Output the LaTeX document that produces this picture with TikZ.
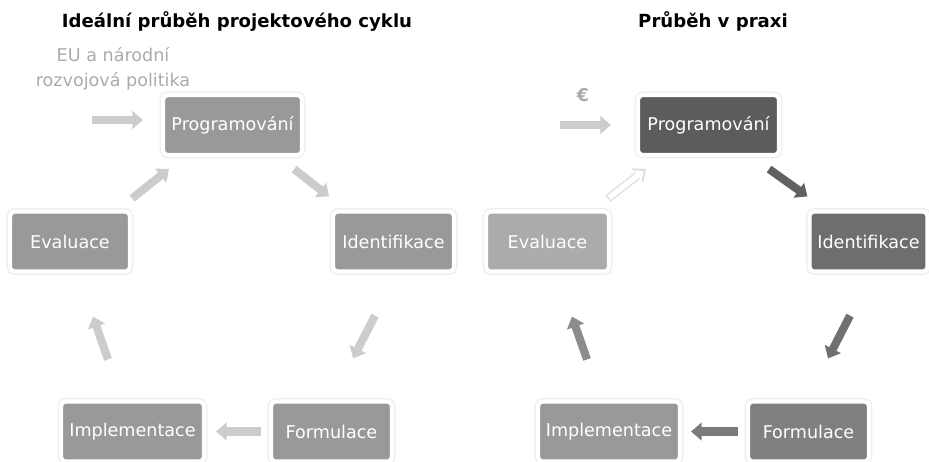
\documentclass[tikz,border=0pt]{standalone}
\usepackage{fontspec}
\setmainfont{DejaVu Sans}
\usetikzlibrary{arrows.meta}

\definecolor{boxgray}{HTML}{999999}
\definecolor{arrlight}{HTML}{CCCCCC}
\definecolor{notegray}{HTML}{ABABAB}
\tikzset{
    stage/.style={rectangle, rounded corners=2.5pt, fill=#1, text=white,
        minimum height=1.2cm, inner sep=0pt, font=\fontsize{10}{12}\selectfont,
        preaction={draw=black!7, line width=3.8pt},
        draw=white, line width=2.4pt},
    blk/.style={draw=#1, line width=4.6pt,
        -{Triangle[width=10pt, length=6pt]}},
    heading/.style={font=\fontsize{10.3}{12}\selectfont\bfseries, text=black}
}

\begin{document}
\begin{tikzpicture}[x=0.02cm, y=-0.02cm]
    \fill[white] (0,0) rectangle (929,461);
    \useasboundingbox (0,0) rectangle (929,461);

    \node[heading] (ltitle) at (237,21) {Ideální průběh projektového cyklu};
    \node[heading] (rtitle) at (713,21) {Průběh v praxi};

    % ideal cycle
    \node[text=notegray, align=center, font=\fontsize{10}{14}\selectfont]
        (policy) at (113,69) {EU a národní\\rozvojová politika};
    \node[stage=boxgray, minimum width=2.78cm] (lprog) at (232.5,125) {Programování};
    \node[stage=boxgray, minimum width=2.4cm] (leval) at (70,241.5) {Evaluace};
    \node[stage=boxgray, minimum width=2.42cm] (lident) at (393.5,241.5) {Identifikace};
    \node[stage=boxgray, minimum width=2.42cm] (lform) at (331.5,431.5) {Formulace};
    \node[stage=boxgray, minimum width=2.86cm] (limpl) at (132.5,431.5) {Implementace};
    \coordinate (lin) at (92,120);

    \draw[blk=arrlight] (lin) -- ([shift={(-18,-5)}]lprog.west);
    \draw[blk=arrlight] ([shift={(-10,12)}]lprog.south east) -- ([shift={(-2,-13)}]lident.north west);
    \draw[blk=arrlight] ([shift={(-18.5,42)}]lident.south) -- ([shift={(21.5,-41)}]lform.north);
    \draw[blk=arrlight] ([shift={(-8,0)}]lform.west) -- ([shift={(10,0)}]limpl.east);
    \draw[blk=arrlight] ([shift={(-24.5,-40)}]limpl.north) -- ([shift={(23,43)}]leval.south);
    \draw[blk=arrlight] ([shift={(0,-11)}]leval.north east) -- ([shift={(8,12)}]lprog.south west);

    % practice
    \node[text=notegray, font=\fontsize{10}{12}\selectfont\bfseries] (euro) at (583,95) {€};
    \node[stage={black!64}, minimum width=2.82cm] (rprog) at (708.5,125) {Programování};
    \node[stage={black!33}, minimum width=2.46cm] (reval) at (547.5,241.5) {Evaluace};
    \node[stage={black!57}, minimum width=2.36cm] (rident) at (868.5,241.5) {Identifikace};
    \node[stage={black!50}, minimum width=2.42cm] (rform) at (808.5,431.5) {Formulace};
    \node[stage={black!40}, minimum width=2.84cm] (rimpl) at (609,431.5) {Implementace};
    \coordinate (rin) at (560,125);

    \draw[blk=arrlight] (rin) -- ([shift={(-25,0)}]rprog.west);
    \draw[blk={black!62}] ([shift={(-12,12)}]rprog.south east) -- ([shift={(0,-13)}]rident.north west);
    \draw[blk={black!56}] ([shift={(-18.5,42)}]rident.south) -- ([shift={(19.5,-41)}]rform.north);
    \draw[blk={black!52}] ([shift={(-8,0)}]rform.west) -- ([shift={(9,0)}]rimpl.east);
    \draw[blk={black!45}] ([shift={(-22,-40)}]rimpl.north) -- ([shift={(24.5,43)}]reval.south);
    \draw[blk={black!14}] ([shift={(-3,-11)}]reval.north east) -- ([shift={(10,12)}]rprog.south west);
    \draw[draw=white, line width=3.2pt, shorten <=0.7pt, shorten >=1.6pt,
        -{Triangle[width=7.4pt, length=4.4pt]}]
        ([shift={(-3,-11)}]reval.north east) -- ([shift={(10,12)}]rprog.south west);
\end{tikzpicture}
\end{document}
